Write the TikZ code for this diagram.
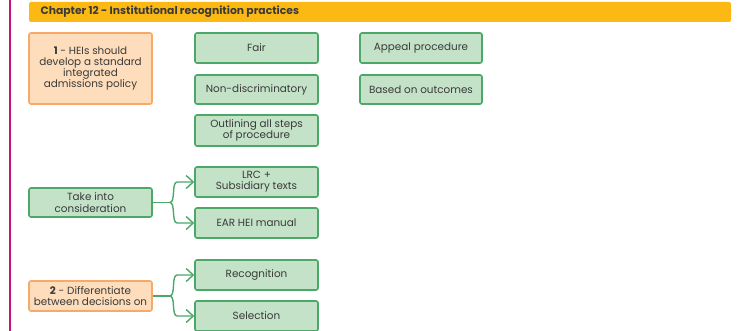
\documentclass[tikz,border=0pt]{standalone}
\usepackage{fontspec}
\setmainfont{Poppins}
\usepackage{xcolor}
\usetikzlibrary{arrows.meta,positioning,calc}

\definecolor{barYellow}{HTML}{FDB913}
\definecolor{sideMagenta}{HTML}{C0157F}
\definecolor{greenFill}{HTML}{C3E2C8}
\definecolor{greenLine}{HTML}{4BA868}
\definecolor{orangeFill}{HTML}{FDDDBB}
\definecolor{orangeLine}{HTML}{F7A96A}
\definecolor{inkGray}{HTML}{3A3A3A}

\begin{document}
\begin{tikzpicture}[
    x=1pt, y=-1pt,
    font=\fontsize{10.4}{11.2}\selectfont,
    text=inkGray,
    greenbox/.style={rectangle, draw=greenLine, fill=greenFill, rounded corners=2pt, line width=1.6pt, minimum width=123pt, minimum height=30pt, align=center, inner sep=1pt},
    orangebox/.style={rectangle, draw=orangeLine, fill=orangeFill, rounded corners=2pt, line width=1.6pt, minimum width=123pt, align=center, inner sep=1pt},
    branch/.style={draw=greenLine, line width=1.4pt},
    branchtip/.style={branch, -{Straight Barb[length=7pt, width=13pt, line width=1.4pt]}}
]
    \useasboundingbox (0,0) rectangle (740,331);

    % Side rule and chapter banner
    \draw [sideMagenta, line width=2.2pt] (10,0) -- (10,331);
    \node (banner) at (380,12) [rectangle, fill=barYellow, rounded corners=2pt, minimum width=702pt, minimum height=20pt] {};
    \node (title) at (37,12) [anchor=west, font=\fontsize{10.8}{11}\selectfont\bfseries] {Chapter 12 - Institutional recognition practices};

    % Block 1: admissions policy
    \node (policy) at (90.5,68.5) [orangebox, minimum height=71pt] {\textbf{1} - HEIs should\\develop a standard\\integrated\\admissions policy};
    \node (fair) at (256.5,48) [greenbox] {Fair};
    \node (nondisc) at (256.5,89.5) [greenbox, minimum height=29pt] {Non-discriminatory};
    \node (steps) at (256.5,130.5) [greenbox, minimum height=31pt] {Outlining all steps\\of procedure};
    \node (appeal) at (421,48) [greenbox, minimum width=122pt] {Appeal procedure};
    \node (outcomes) at (421,89.5) [greenbox, minimum width=122pt, minimum height=29pt] {Based on outcomes};

    % Take into consideration
    \node (consider) at (90.5,202.5) [greenbox, minimum height=29pt] {Take into\\consideration};
    \node (lrc) at (256.5,182) [greenbox] {LRC +\\Subsidiary texts};
    \node (ear) at (256.5,223) [greenbox] {EAR HEI manual};

    % Block 2: decisions
    \node (decide) at (90.5,296) [orangebox, minimum height=30pt] {\textbf{2} - Differentiate\\between decisions on};
    \node (recog) at (256.5,275) [greenbox] {Recognition};
    \node (select) at (256.5,316) [greenbox] {Selection};

    % Forks
    \coordinate (forkA) at ($(consider.east)+(17,0)$);
    \draw [branch] (consider.east) -- (forkA);
    \draw [branchtip] (forkA) .. controls +(6,0) and +(-6,0) .. ($(lrc.west)+(-17,0)$) -- (lrc.west);
    \draw [branchtip] (forkA) .. controls +(6,0) and +(-6,0) .. ($(ear.west)+(-17,0)$) -- (ear.west);

    \coordinate (forkB) at ($(decide.east)+(17,0)$);
    \draw [branch] (decide.east) -- (forkB);
    \draw [branchtip] (forkB) .. controls +(6,0) and +(-6,0) .. ($(recog.west)+(-17,0)$) -- (recog.west);
    \draw [branchtip] (forkB) .. controls +(6,0) and +(-6,0) .. ($(select.west)+(-17,0)$) -- (select.west);

\end{tikzpicture}
\end{document}
